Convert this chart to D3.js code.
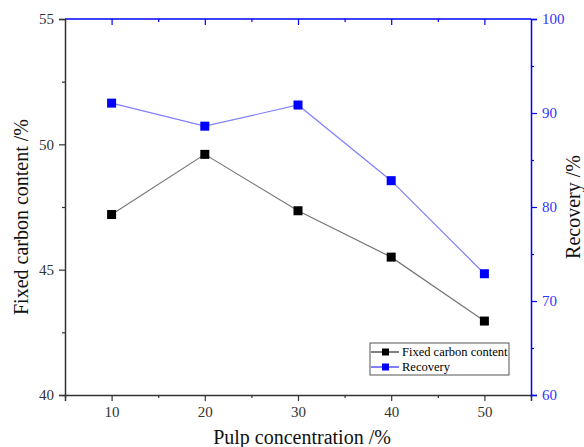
<!DOCTYPE html>
<html>
<head>
<meta charset="utf-8">
<script src="https://cdn.jsdelivr.net/npm/d3@7"></script>
<style>
	body { margin: 0; background: #fff; }
	text { font-family: "Liberation Serif", "Times New Roman", serif; }
</style>
</head>
<body>
<svg id="chart" width="584" height="447"></svg>
<script>
// data
const pulpConc = [10, 20, 30, 40, 50];
const fixedCarbon = [47.2, 49.6, 47.35, 45.5, 42.95];
const recovery = [91.05, 88.6, 90.85, 82.8, 72.9];
const xTicks = [10, 20, 30, 40, 50];
const xMinor = [5, 15, 25, 35, 45, 55];
const leftTicks = [40, 45, 50, 55];
const leftMinor = [42.5, 47.5, 52.5];
const rightTicks = [60, 70, 80, 90, 100];
const rightMinor = [65, 75, 85, 95];

const svg = d3.select("#chart");
const m = { left: 65, right: 531, top: 19, bottom: 395 };
const blue = "#0000ff";
const serif = "Liberation Serif, Times New Roman, serif";

const x = d3.scaleLinear().domain([5, 55]).range([m.left, m.right]);
const yL = d3.scaleLinear().domain([40, 55]).range([m.bottom, m.top]);
const yR = d3.scaleLinear().domain([60, 100]).range([m.bottom, m.top]);

// draws a major + minor tick pair of axes, each into its own group
function drawAxis(axisFn, scale, major, minor, pos, color, labels) {
	const gMin = svg.append("g").attr("transform", pos);
	gMin.call(axisFn(scale).tickValues(minor).tickSize(3).tickFormat(""));
	gMin.select("path").remove();
	gMin.selectAll("line").attr("stroke", color).attr("stroke-width", 1.2);
	const g = svg.append("g").attr("transform", pos);
	g.call(axisFn(scale).tickValues(major).tickSize(6).tickPadding(5)
		.tickFormat(labels ? d3.format("d") : ""));
	g.attr("font-family", serif).attr("font-size", 15);
	g.selectAll("path").attr("stroke", color).attr("stroke-width", 1.5);
	g.selectAll("line").attr("stroke", color).attr("stroke-width", 1.2);
	return g;
}

const gx = drawAxis(d3.axisBottom, x, xTicks, xMinor, `translate(0,${m.bottom})`, "#333", true);
gx.selectAll("text").attr("fill", "#333");

const gt = drawAxis(d3.axisBottom, x, xTicks, xMinor.slice(1, -1), `translate(0,${m.top})`, blue, false);
gt.select("path").remove();
svg.append("line").attr("x1", m.left).attr("x2", m.right).attr("y1", m.top).attr("y2", m.top)
	.attr("stroke", blue).attr("stroke-width", 1.5);

const gl = drawAxis(d3.axisLeft, yL, leftTicks, leftMinor, `translate(${m.left},0)`, "#333", true);
gl.selectAll("text").attr("fill", "#333");

const gr = drawAxis(d3.axisRight, yR, rightTicks, rightMinor, `translate(${m.right},0)`, blue, true);
gr.selectAll("text").attr("fill", "#3333ff");

// axis titles
svg.append("text").attr("x", 302).attr("y", 444)
	.attr("text-anchor", "middle").attr("font-size", 20).attr("fill", "#111")
	.text("Pulp concentration /%");
svg.append("text").attr("transform", "translate(28,217) rotate(-90)")
	.attr("text-anchor", "middle").attr("font-size", 20).attr("fill", "#111")
	.text("Fixed carbon content /%");
svg.append("text").attr("transform", "translate(580,207) rotate(-90)")
	.attr("text-anchor", "middle").attr("font-size", 20).attr("fill", "#111")
	.text("Recovery /%");

// series
const series = [
	{ vals: fixedCarbon, y: yL, line: "#777", mark: "#000" },
	{ vals: recovery, y: yR, line: "#8080ff", mark: blue }
];
series.forEach(s => {
	const pts = pulpConc.map((c, i) => [x(c), s.y(s.vals[i])]);
	svg.append("path").attr("d", d3.line()(pts)).attr("fill", "none")
		.attr("stroke", s.line).attr("stroke-width", 1.2);
	svg.selectAll(null).data(pts).enter().append("rect")
		.attr("x", d => d[0] - 4.5).attr("y", d => d[1] - 4.5)
		.attr("width", 9).attr("height", 9).attr("fill", s.mark);
});

// legend
const lg = svg.append("g").attr("transform", "translate(370,343)");
lg.append("rect").attr("width", 139).attr("height", 32).attr("fill", "#fff")
	.attr("stroke", "#555").attr("stroke-width", 1);
const legendItems = [
	{ label: "Fixed carbon content", line: "#000", mark: "#000" },
	{ label: "Recovery", line: blue, mark: blue }
];
legendItems.forEach((d, i) => {
	const yy = 9 + i * 15;
	lg.append("line").attr("x1", 1).attr("x2", 29).attr("y1", yy).attr("y2", yy)
		.attr("stroke", d.line).attr("stroke-width", 1);
	lg.append("rect").attr("x", 12).attr("y", yy - 3.5).attr("width", 7).attr("height", 7).attr("fill", d.mark);
	lg.append("text").attr("x", 32).attr("y", yy + 4).attr("font-size", 12.5).attr("fill", "#000").text(d.label);
});
</script>
</body>
</html>
